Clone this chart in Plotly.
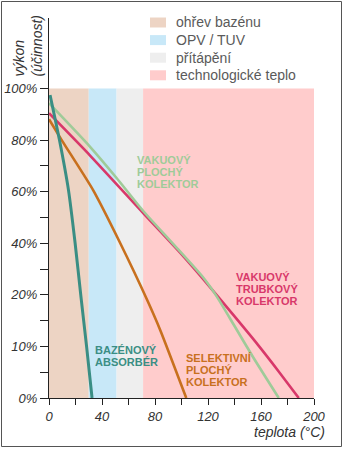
import plotly.graph_objects as go

# ---------------- data ----------------
band_names = ["ohřev bazénu", "OPV / TUV", "přítápění", "technologické teplo"]
band_start = [0, 30, 51, 71]
band_end = [30, 51, 71, 200]
band_colors = ["#EDD4C4", "#C8E8F8", "#EEEEEE", "#FFCCCC"]

# vakuový trubkový kolektor
vt_x = [0, 31.0, 71.1, 100.6, 116.4, 139.1, 157.7, 173.2, 188.5]
vt_y = [90.4, 74.0, 51.7, 35.4, 26.1, 16.1, 10.3, 5.2, 0]
# vakuový plochý kolektor
vp_x = [0, 31.0, 50.7, 71.1, 93.8, 116.4, 126.3, 139.9, 154.3, 173.4]
vp_y = [94.3, 77.4, 65.5, 52.5, 39.7, 26.7, 19.8, 14.0, 7.8, 0]
# selektivní plochý kolektor
sp_x = [0, 9.8, 33.3, 53.7, 74.1, 83.9, 103.6]
sp_y = [88.1, 79.8, 60.6, 40.1, 19.0, 13.2, 0]
# bazénový absorbér
ba_x = [0.8, 7.9, 14.7, 19.7, 24.0, 28.4, 32.5]
ba_y = [97.5, 80, 60.6, 40.1, 19.9, 9.9, 0]

x_ticks = list(range(0, 201, 20))
x_labels = [str(v) if v % 40 == 0 else "" for v in x_ticks]
y_ticks = [0, 5, 10, 15, 20, 30, 40, 50, 60, 70, 80, 90, 100]
y_labels = ["0%", "", "10%", "", "20%", "", "40%", "", "60%", "", "80%", "", "100%"]

series_names = ["VAKUOVÝ TRUBKOVÝ KOLEKTOR", "VAKUOVÝ PLOCHÝ KOLEKTOR",
                "SELEKTIVNÍ PLOCHÝ KOLEKTOR", "BAZÉNOVÝ ABSORBÉR"]
series_lines = [["VAKUOVÝ", "TRUBKOVÝ", "KOLEKTOR"],
                ["VAKUOVÝ", "PLOCHÝ", "KOLEKTOR"],
                ["SELEKTIVNÍ", "PLOCHÝ", "KOLEKTOR"],
                ["BAZÉNOVÝ", "ABSORBÉR"]]
series_colors = ["#D8386A", "#9FCB99", "#C8701E", "#3A8E84"]


# piecewise scale of the original chart: 0-20 % drawn at double scale
def yscale(v):
    return v + 20 if v >= 20 else 2 * v


def ys(vals):
    return [yscale(v) for v in vals]


# ---------------- layout geometry (pixels) ----------------
W, H = 343, 451
L, R, T, B = 49, 29, 18, 53
PW, PH = W - L - R, H - T - B
Y_TOP = yscale(100) + (88.5 - T) / ((398 - 88.5) / yscale(100))


def px(xpix):
    return (xpix - L) / PW


def py(ypix):
    return (H - B - ypix) / PH


fig = go.Figure()

shapes = []
annotations = []

# background bands
for s, e, c in zip(band_start, band_end, band_colors):
    shapes.append(dict(type="rect", xref="x", yref="y", x0=s, x1=e,
                       y0=yscale(0), y1=yscale(100), fillcolor=c,
                       line=dict(width=0), layer="below"))

# curves
curves = [(vt_x, vt_y), (vp_x, vp_y), (sp_x, sp_y), (ba_x, ba_y)]
widths = [2.6, 2.6, 2.6, 3]
for (cx, cy), name, col, w in zip(curves, series_names, series_colors, widths):
    fig.add_trace(go.Scatter(x=cx, y=ys(cy), mode="lines", name=name,
                             line=dict(color=col, width=w, shape="spline",
                                       smoothing=0.6),
                             hoverinfo="skip", showlegend=False))

# curve labels (left x, first line y in pixels)
label_pos = [(234, 277), (135, 160), (184, 358), (92.5, 350)]
for lines, col, (lx, ly) in zip(series_lines, series_colors, label_pos):
    for i, t in enumerate(lines):
        annotations.append(dict(xref="paper", yref="paper", x=px(lx),
                                y=py(ly + i * 12), text="<b>" + t + "</b>",
                                showarrow=False, xanchor="left",
                                yanchor="middle",
                                font=dict(family="Liberation Sans, Arial",
                                          size=11, color=col)))

# legend (manual)
for i, (name, col) in enumerate(zip(band_names, band_colors)):
    cy = 22.5 + i * 17.6
    shapes.append(dict(type="rect", xref="paper", yref="paper",
                       x0=px(150), x1=px(166), y0=py(cy + 5), y1=py(cy - 5),
                       fillcolor=col, line=dict(width=0)))
    annotations.append(dict(xref="paper", yref="paper", x=px(174), y=py(cy),
                            text=name, showarrow=False, xanchor="left",
                            yanchor="middle",
                            font=dict(family="Liberation Sans, Arial", size=14,
                                      color="#5A5A5A")))

# axis titles
annotations.append(dict(xref="paper", yref="paper", x=px(27), y=py(79),
                        text="výkon<br>(účinnost)", textangle=-90,
                        showarrow=False, xanchor="center", yanchor="bottom",
                        align="left",
                        font=dict(family="Liberation Sans, Arial", size=14,
                                  color="#333333", style="italic")))
annotations.append(dict(xref="paper", yref="paper", x=px(327), y=py(431.5),
                        text="teplota (°C)", showarrow=False, xanchor="right",
                        yanchor="middle",
                        font=dict(family="Liberation Sans, Arial", size=14,
                                  color="#333333", style="italic")))

# outer frame
shapes.append(dict(type="rect", xref="paper", yref="paper",
                   x0=px(1.5), x1=px(341.5), y0=py(446.5), y1=py(1.5),
                   line=dict(color="#555555", width=1), fillcolor="rgba(0,0,0,0)"))

fig.update_layout(
    template="none",
    width=W, height=H,
    margin=dict(l=L, r=R, t=T, b=B, pad=0, autoexpand=False),
    paper_bgcolor="white", plot_bgcolor="white",
    shapes=shapes, annotations=annotations,
    showlegend=False,
    xaxis=dict(range=[0, 200], tickvals=x_ticks, ticktext=x_labels,
               ticks="outside", ticklen=6, tickcolor="#222222",
               showline=True, linecolor="#222222", linewidth=1,
               showgrid=False, zeroline=False, fixedrange=True,
               automargin=False,
               tickfont=dict(family="Liberation Sans, Arial", size=13,
                             color="#333333", style="italic")),
    yaxis=dict(range=[0, Y_TOP], tickvals=ys(y_ticks), ticktext=y_labels,
               ticks="outside", ticklen=8, tickcolor="#222222",
               showline=True, linecolor="#222222", linewidth=1,
               showgrid=False, zeroline=False, fixedrange=True,
               automargin=False,
               tickfont=dict(family="Liberation Sans, Arial", size=13,
                             color="#333333", style="italic")),
)

fig.write_html("out.html", config={"displayModeBar": False})
